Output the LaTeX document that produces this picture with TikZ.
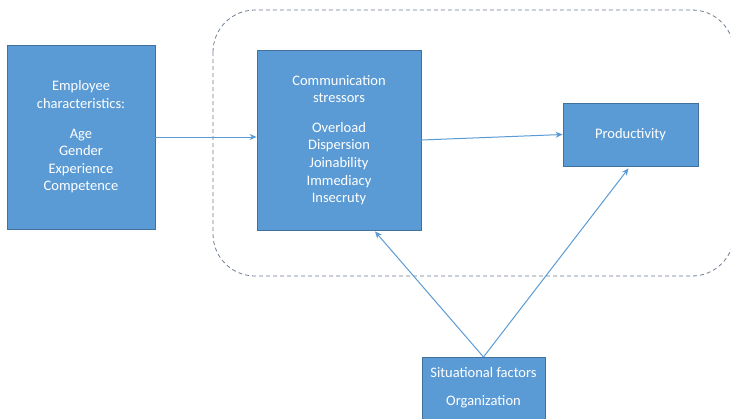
\documentclass[tikz,border=0pt]{standalone}
\usepackage{fontspec}
\setmainfont{Carlito}
\usetikzlibrary{arrows.meta,calc}
\definecolor{boxfill}{HTML}{5B9BD5}
\definecolor{boxline}{HTML}{41719C}
\definecolor{arrowc}{HTML}{5B9BD5}
\definecolor{dashc}{HTML}{6F7F95}
\tikzset{
  bluebox/.style={draw=boxline, line width=0.8pt, fill=boxfill, text=white, align=center,
    font=\fontsize{14.5}{17.6}\selectfont, inner sep=0pt},
  boxtext/.style={text=white, font=\fontsize{14.5}{17.6}\selectfont},
  conn/.style={draw=arrowc, line width=1pt, -{Stealth[length=7pt,width=6pt]}}
}
\begin{document}
\begin{tikzpicture}[x=1pt,y=-1pt]
\useasboundingbox (0,0) rectangle (731,418);
\clip (0,0) rectangle (731,418);
\fill[white] (0,0) rectangle (731,418);
\draw[dashc, line width=0.8pt, dash pattern=on 4pt off 3pt, rounded corners=42pt] (213,10) rectangle (734,276);
\node[bluebox, minimum width=148pt, minimum height=184pt] (emp) at (81,137)
  {Employee\\characteristics:\\[12pt]Age\\Gender\\Experience\\Competence};
\node[bluebox, minimum width=164pt, minimum height=180pt] (comm) at (339,140)
  {Communication\\stressors\\[12pt]Overload\\Dispersion\\Joinability\\Immediacy\\Insecruty};
\node[bluebox, minimum width=135pt, minimum height=63pt] (prod) at (630.5,134.5) {Productivity};
\node[bluebox, minimum width=123pt, minimum height=70pt, anchor=north] (sit) at (483.5,357) {};
\node[boxtext] (sit1) at (483.5,373) {Situational factors};
\node[boxtext] (sit2) at (483.5,402) {Organization};
\draw[conn] (emp.east) -- (comm.west |- emp.east);
\draw[conn] (comm.east) -- (prod.west);
\draw[conn] (sit.north) -- ($(comm.south)+(36,1)$);
\draw[conn] (sit.north) -- ($(prod.south)+(-2,2)$);
\end{tikzpicture}
\end{document}
